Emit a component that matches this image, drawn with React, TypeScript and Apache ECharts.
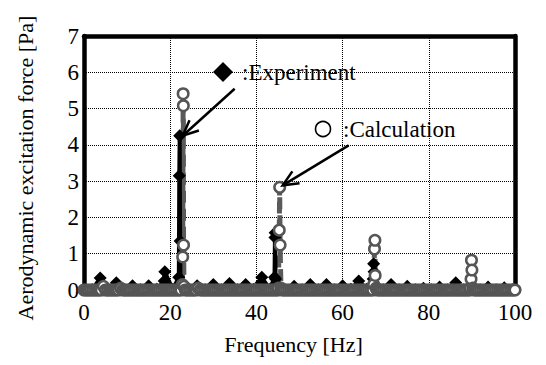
import React, { useEffect, useRef } from "react";
import * as echarts from "echarts";

// Experiment: [frequency Hz, force Pa]
const expData: number[][] = [
  [0, 0.02], [1.9, 0.01], [3.75, 0.33], [5.6, 0.01], [7.5, 0.2], [9.4, 0.01],
  [11.25, 0.12], [13.1, 0.01], [15, 0.12], [16.9, 0.02], [18.6, 0.25], [18.75, 0.5],
  [20.6, 0.02], [22.0, 0.35], [22.1, 3.15], [22.2, 4.25], [22.3, 1.35], [22.4, 0.1],
  [24.4, 0.02], [26.25, 0.12], [28.1, 0.01], [30, 0.15], [31.9, 0.01], [33.75, 0.18],
  [35.6, 0.01], [37.5, 0.15], [39.4, 0.02], [41.1, 0.2], [41.25, 0.35], [43.1, 0.02],
  [44.2, 0.35], [44.3, 1.45], [44.35, 1.58], [44.45, 0.3], [46.6, 0.01], [48.75, 0.1],
  [50.6, 0.01], [52.5, 0.15], [54.4, 0.01], [56.25, 0.15], [58.1, 0.01], [60, 0.12],
  [61.9, 0.02], [63.75, 0.25], [65.6, 0.02], [67.1, 0.3], [67.2, 0.72], [67.3, 0.5],
  [67.4, 0.1], [69.4, 0.01], [71.25, 0.15], [73.1, 0.01], [75, 0.1], [76.9, 0.01],
  [78.75, 0.05], [80.6, 0.01], [82.5, 0.08], [84.4, 0.01], [86.25, 0.2], [88.1, 0.01],
  [90, 0.08], [91.9, 0.01], [93.75, 0.08], [95.6, 0.01], [97.5, 0.06], [99.4, 0.01],
  [100, 0.01],
];

// Calculation baseline, sampled every 0.5 Hz from 0 to 100 Hz
const calcStep = 0.5;
const calcBaseline: number[] = [
  0, 0, 0, 0, 0, 0, 0, 0, 0, 0.1, 0, 0, 0, 0, 0, 0, 0, 0.05, 0, 0,
  0, 0, 0, 0, 0, 0, 0, 0, 0, 0, 0, 0, 0, 0, 0, 0, 0, 0, 0, 0,
  0, 0, 0, 0, 0, 0, 0, 0, 0, 0, 0, 0, 0, 0.05, 0, 0, 0, 0, 0, 0,
  0, 0, 0, 0, 0, 0, 0, 0, 0, 0, 0, 0, 0, 0, 0, 0, 0, 0, 0, 0,
  0, 0, 0, 0, 0, 0, 0, 0, 0, 0, 0, 0, 0, 0, 0, 0, 0, 0, 0, 0,
  0, 0, 0, 0, 0, 0, 0, 0, 0, 0, 0, 0, 0, 0, 0, 0, 0, 0, 0, 0,
  0, 0, 0, 0, 0, 0, 0, 0, 0, 0, 0, 0, 0, 0, 0, 0, 0, 0, 0, 0,
  0, 0, 0, 0, 0, 0, 0, 0, 0, 0, 0, 0, 0, 0, 0, 0, 0, 0, 0, 0,
  0, 0, 0, 0, 0, 0, 0, 0, 0, 0, 0, 0, 0, 0, 0, 0, 0, 0, 0, 0,
  0, 0, 0, 0, 0, 0, 0, 0, 0, 0, 0, 0, 0, 0, 0, 0, 0, 0, 0, 0,
  0,
];

// Calculation peaks: [frequency Hz, force Pa]
const calcPeak1: number[][] = [[22.8, 0.15], [22.9, 0.91], [23.0, 5.41], [23.05, 5.08], [23.1, 1.24], [23.2, 0.1]];
const calcPeak2: number[][] = [[45.1, 0.05], [45.3, 1.65], [45.4, 2.83], [45.5, 1.24], [45.7, 0.05]];
const calcPeak3: number[][] = [[67.2, 0.15], [67.4, 1.13], [67.5, 1.37], [67.55, 0.4], [67.8, 0.05]];
const calcPeak4: number[][] = [[89.6, 0.05], [89.8, 0.3], [89.9, 0.82], [90.0, 0.55], [90.2, 0.05]];

const xMin = 0, xMax = 100, xStep = 20;
const yMin = 0, yMax = 7, yStep = 1;

const FONT = "Liberation Serif";
const frameLine = { show: true, onZero: false, lineStyle: { color: "#000", width: 4.5 } };

function buildCalc(): number[][] {
  const peaks = [calcPeak1, calcPeak2, calcPeak3, calcPeak4];
  const windows = peaks.map((p) => [p[0][0], p[p.length - 1][0]]);
  const base = calcBaseline
    .map((v, i) => [i * calcStep, v])
    .filter(([f]) => !windows.some(([a, b]) => f >= a && f <= b));
  const all = base.concat(...peaks);
  all.sort((a, b) => a[0] - b[0]);
  return all;
}

export default function App() {
  const ref = useRef<HTMLDivElement>(null);
  useEffect(() => {
    if (!ref.current) return;
    const chart = echarts.init(ref.current, null, { renderer: "svg" });
    const calcData = buildCalc();
    chart.setOption({
      animation: false,
      backgroundColor: "#fff",
      textStyle: { fontFamily: FONT, color: "#000" },
      grid: { left: 84, right: 31, top: 36, bottom: 75, show: false },
      xAxis: [
        {
          type: "value", min: xMin, max: xMax, interval: xStep, position: "bottom",
          name: "Frequency [Hz]", nameLocation: "middle", nameGap: 43,
          nameTextStyle: { fontFamily: FONT, fontSize: 22, color: "#000", padding: [0, 12, 0, 0] },
          axisLine: frameLine, axisTick: { show: false },
          axisLabel: { fontFamily: FONT, fontSize: 23, color: "#000", margin: 11 },
          splitLine: { show: true, lineStyle: { color: "#000", type: "dotted", width: 1 } },
        },
        {
          type: "value", min: xMin, max: xMax, interval: xStep, position: "top",
          axisLine: frameLine, axisTick: { show: false }, axisLabel: { show: false }, splitLine: { show: false },
        },
      ],
      yAxis: [
        {
          type: "value", min: yMin, max: yMax, interval: yStep, position: "left",
          name: "Aerodynamic excitation force [Pa]", nameLocation: "middle", nameGap: 48,
          nameTextStyle: { fontFamily: FONT, fontSize: 22, color: "#000", padding: [0, 10, 0, 0] },
          axisLine: frameLine, axisTick: { show: false },
          axisLabel: { fontFamily: FONT, fontSize: 23, color: "#000", margin: 5 },
          splitLine: { show: true, lineStyle: { color: "#000", type: "dotted", width: 1 } },
        },
        {
          type: "value", min: yMin, max: yMax, interval: yStep, position: "right",
          axisLine: frameLine, axisTick: { show: false }, axisLabel: { show: false }, splitLine: { show: false },
        },
      ],
      series: [
        {
          name: "Calculation line", type: "line", data: calcData, showSymbol: false,
          lineStyle: { color: "#5a5a5a", width: 5, type: [12, 6] }, z: 2,
        },
        {
          name: "Experiment", type: "line", data: expData, symbol: "diamond", symbolSize: 13,
          showAllSymbol: true, itemStyle: { color: "#000" },
          lineStyle: { color: "#000", width: 4 }, z: 3,
        },
        {
          name: "Calculation", type: "scatter", data: calcData, symbol: "circle", symbolSize: 10.5,
          itemStyle: { color: "#fff", borderColor: "#555", borderWidth: 2.5, opacity: 1 }, z: 4,
        },
      ],
    });

    const px = (p: number[]) => chart.convertToPixel({ xAxisIndex: 0, yAxisIndex: 0 }, p) as number[];
    const arrow = (tip: number[], start: number[]) => {
      const dx = start[0] - tip[0], dy = start[1] - tip[1];
      const len = Math.hypot(dx, dy);
      const ux = dx / len, uy = dy / len;
      const arm = (ang: number) => {
        const c = Math.cos(ang), s = Math.sin(ang);
        return [tip[0] + 17 * (ux * c - uy * s), tip[1] + 17 * (ux * s + uy * c)];
      };
      return [
        { type: "line", shape: { x1: start[0], y1: start[1], x2: tip[0], y2: tip[1] }, style: { stroke: "#000", lineWidth: 2.5 }, z: 10 },
        { type: "polyline", shape: { points: [arm(0.42), tip, arm(-0.42)] }, style: { stroke: "#000", lineWidth: 2.5, fill: null }, z: 10 },
      ];
    };
    const e = px([22.2, 4.25]);
    const eTip = [e[0] + 3, e[1]];
    const c = px([45.4, 2.83]);
    const cTip = [c[0] + 3, c[1] - 2];

    chart.setOption({
      graphic: [
        ...arrow(eTip, [eTip[0] + 52, eTip[1] - 47]),
        ...arrow(cTip, [cTip[0] + 66, cTip[1] - 40]),
        { type: "polygon", shape: { points: [[223, 62], [233, 72], [223, 82], [213, 72]] }, style: { fill: "#000" }, z: 10 },
        { type: "text", x: 242, y: 72, style: { text: ":Experiment", fontFamily: FONT, fontSize: 23, fill: "#000", verticalAlign: "middle" }, z: 10 },
        { type: "circle", shape: { cx: 323, cy: 129, r: 7.5 }, style: { fill: "#fff", stroke: "#000", lineWidth: 1.6 }, z: 10 },
        { type: "text", x: 343, y: 129, style: { text: ":Calculation", fontFamily: FONT, fontSize: 23, fill: "#000", verticalAlign: "middle" }, z: 10 },
      ],
    });
    return () => chart.dispose();
  }, []);
  return <div ref={ref} style={{ position: "fixed", left: 0, top: 0, width: 546, height: 365 }} />;
}
